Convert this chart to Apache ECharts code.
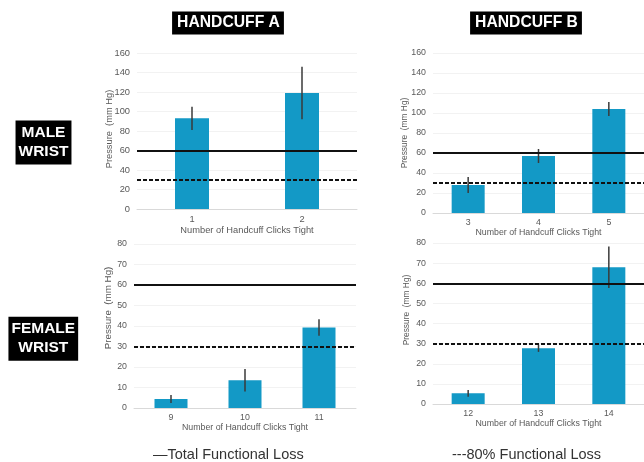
<!DOCTYPE html>
<html>
<head>
<meta charset="utf-8">
<script src="https://cdn.jsdelivr.net/npm/echarts@6/dist/echarts.min.js"></script>
<style>html,body{margin:0;padding:0;background:#fff}#c{width:644px;height:462px}</style>
</head>
<body>
<div id="c"></div>
<script>
// ---- data ----
const maleACats = ['1', '2'];
const maleAValues = [93, 119];
const maleAErrors = [12, 27];

const maleBCats = ['3', '4', '5'];
const maleBValues = [28, 57, 104];
const maleBErrors = [8, 7, 7];

const femaleACats = ['9', '10', '11'];
const femaleAValues = [4.4, 13.5, 39.3];
const femaleAErrors = [2, 5.5, 4];

const femaleBCats = ['12', '13', '14'];
const femaleBValues = [5.3, 27.7, 68];
const femaleBErrors = [1.7, 1.8, 10.3];

const totalLoss = 60;
const eightyLoss = 30;

const maleAxisMax = 160, maleAxisInterval = 20;
const femaleAxisMax = 80, femaleAxisInterval = 10;

const columnTitles = ['HANDCUFF A', 'HANDCUFF B'];
const rowTitles = ['MALE\nWRIST', 'FEMALE\nWRIST'];
const xAxisTitle = 'Number of Handcuff Clicks Tight';
const yAxisTitle = 'Pressure  (mm Hg)';
const legendTexts = ['\u2014Total Functional Loss', '---80% Functional Loss'];

// ---- layout ----
const FONT = 'Liberation Sans, Arial, sans-serif';
const BAR = '#1399C6';
const GRAY = '#595959';

const panels = [
  { cats: maleACats, vals: maleAValues, errs: maleAErrors, max: maleAxisMax, interval: maleAxisInterval,
    grid: { left: 137, top: 53, width: 220, height: 156 }, barWidth: 34, labelMargin: 6, nameGap: 17, fs: 9.3 },
  { cats: maleBCats, vals: maleBValues, errs: maleBErrors, max: maleAxisMax, interval: maleAxisInterval,
    grid: { left: 433, top: 53, width: 221, height: 160 }, barWidth: 33, labelMargin: 5, nameGap: 15, fs: 8.8 },
  { cats: femaleACats, vals: femaleAValues, errs: femaleAErrors, max: femaleAxisMax, interval: femaleAxisInterval,
    grid: { left: 134, top: 244, width: 222, height: 164 }, barWidth: 33, labelMargin: 5, nameGap: 15, fs: 8.8 },
  { cats: femaleBCats, vals: femaleBValues, errs: femaleBErrors, max: femaleAxisMax, interval: femaleAxisInterval,
    grid: { left: 433, top: 243, width: 221, height: 161 }, barWidth: 33, labelMargin: 5, nameGap: 15, fs: 8.8 }
];

const grids = [], xAxes = [], yAxes = [], series = [];
panels.forEach((p, i) => {
  grids.push(Object.assign({ containLabel: false }, p.grid));
  xAxes.push({
    type: 'category', gridIndex: i, data: p.cats,
    axisLine: { show: true, lineStyle: { color: '#d9d9d9', width: 1 } },
    axisTick: { show: false },
    axisLabel: { color: GRAY, fontSize: p.fs, fontFamily: FONT, margin: p.labelMargin },
    name: xAxisTitle, nameLocation: 'middle', nameGap: p.nameGap,
    nameTextStyle: { color: GRAY, fontSize: p.fs, fontFamily: FONT }
  });
  yAxes.push({
    type: 'value', gridIndex: i, min: 0, max: p.max, interval: p.interval,
    axisLine: { show: false }, axisTick: { show: false },
    axisLabel: { color: GRAY, fontSize: p.fs, fontFamily: FONT, margin: 7 },
    splitLine: { show: true, lineStyle: { color: '#f2f2f2', width: 1 } }
  });
  series.push({
    type: 'bar', xAxisIndex: i, yAxisIndex: i, data: p.vals, barWidth: p.barWidth,
    itemStyle: { color: BAR }, z: 2, silent: true
  });
  series.push({
    type: 'custom', xAxisIndex: i, yAxisIndex: i, z: 3, silent: true,
    data: p.vals.map((v, k) => [k, v, p.errs[k]]),
    encode: { x: 0, y: 1 },
    renderItem: (params, api) => {
      const x = api.value(0), v = api.value(1), e = api.value(2);
      const a = api.coord([x, v + e]);
      const b = api.coord([x, v - e]);
      return { type: 'line', shape: { x1: a[0], y1: a[1], x2: b[0], y2: b[1] },
        style: { stroke: '#3a3a3a', lineWidth: 1.5 } };
    },
    markLine: {
      silent: true, symbol: ['none', 'none'], label: { show: false }, animation: false,
      data: [
        { yAxis: totalLoss, lineStyle: { color: '#111', width: 2, type: 'solid' } },
        { yAxis: eightyLoss, lineStyle: { color: '#111', width: 2, type: [4, 2] } }
      ]
    }
  });
});

const yNamePos = [
  { x: 109, y: 129, fs: 9.3 },
  { x: 405, y: 133, fs: 8.4 },
  { x: 108, y: 308, fs: 9.8 },
  { x: 407, y: 310, fs: 8.4 }
];

const graphics = [];
yNamePos.forEach(p => {
  graphics.push({ type: 'text', x: p.x, y: p.y, rotation: Math.PI / 2, silent: true,
    style: { text: yAxisTitle, fill: GRAY, font: p.fs + 'px ' + FONT, align: 'center', verticalAlign: 'middle' } });
});
[[228, 23], [526, 23]].forEach((pos, i) => {
  graphics.push({ type: 'text', x: pos[0], y: pos[1], silent: true,
    style: { text: columnTitles[i], fill: '#fff', backgroundColor: '#000', padding: [4, 4, 3, 5],
      font: 'bold 15.7px ' + FONT, align: 'center', verticalAlign: 'middle' } });
});
[[43.5, 142.5], [43.3, 338.7]].forEach((pos, i) => {
  graphics.push({ type: 'text', x: pos[0], y: pos[1], silent: true,
    style: { text: rowTitles[i], fill: '#fff', backgroundColor: '#000', padding: [3, 3, 3, 3], lineHeight: 19,
      font: 'bold 15.5px ' + FONT, align: 'center', verticalAlign: 'middle' } });
});
[[153, 455], [452, 455]].forEach((pos, i) => {
  graphics.push({ type: 'text', x: pos[0], y: pos[1], silent: true,
    style: { text: legendTexts[i], fill: '#333', font: '14.5px ' + FONT, align: 'left', verticalAlign: 'middle' } });
});

const chart = echarts.init(document.getElementById('c'), null, { renderer: 'canvas' });
chart.setOption({
  backgroundColor: '#fff',
  animation: false,
  grid: grids, xAxis: xAxes, yAxis: yAxes, series: series,
  graphic: graphics
});
</script>
</body>
</html>
